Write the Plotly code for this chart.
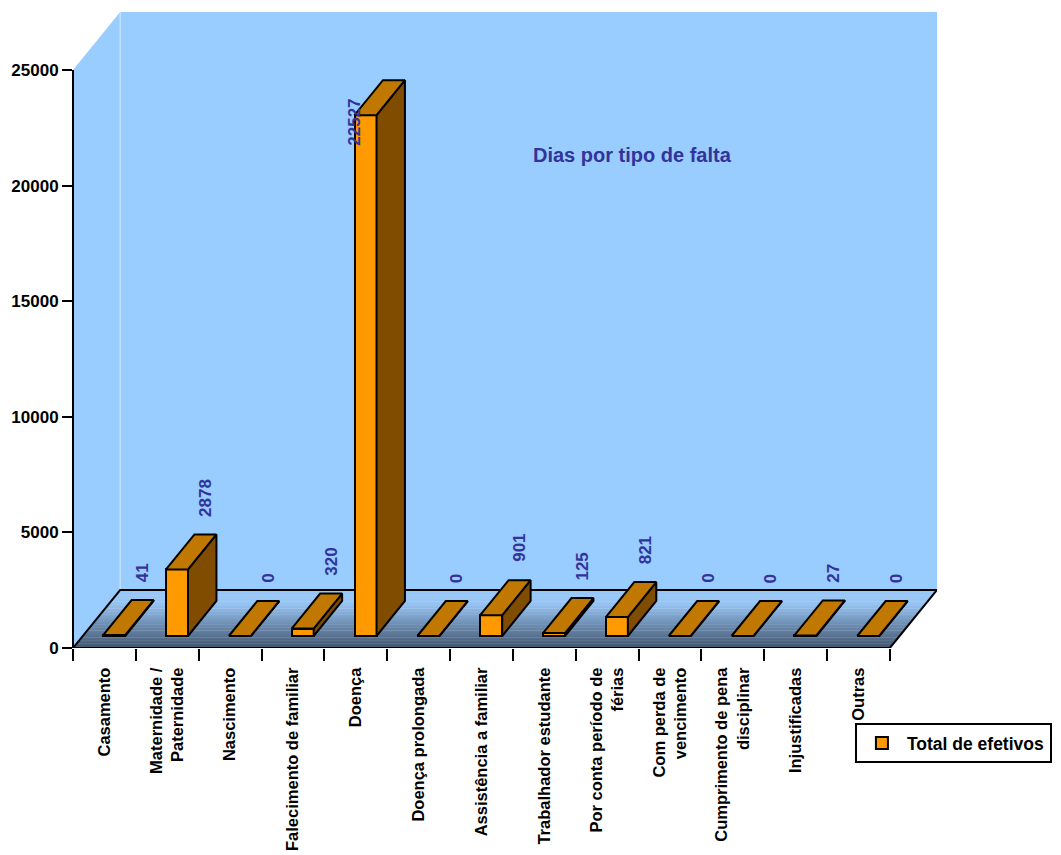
import plotly.graph_objects as go

# ---------------- data ----------------
categories = [
    "Casamento", "Maternidade /<br>Paternidade", "Nascimento", "Falecimento de familiar",
    "Doença", "Doença prolongada", "Assistência a familiar", "Trabalhador estudante",
    "Por conta período de<br>férias", "Com perda de<br>vencimento",
    "Cumprimento de pena<br>disciplinar", "Injustificadas", "Outras",
]
values = [41, 2878, 0, 320, 22527, 0, 901, 125, 821, 0, 0, 27, 0]
series_name = "Total de efetivos"
chart_title = "Dias por tipo de falta"
y_ticks = [0, 5000, 10000, 15000, 20000, 25000]
y_tick_text = ["0", "5000", "10000", "15000", "20000", "25000"]

# ---------------- pseudo-3D geometry (styling) ----------------
Y_MAX = 25000
FLOOR_DY = Y_MAX * 58 / 578      # floor depth expressed in y units
FLOOR_DX = 0.75                  # floor depth expressed in category units
D_FRONT, D_BACK = 12 / 58, 47 / 58
BAR_W = 0.35
n = len(categories)

base = D_FRONT * FLOOR_DY
shift_x = D_FRONT * FLOOR_DX
ddx = (D_BACK - D_FRONT) * FLOOR_DX
ddy = (D_BACK - D_FRONT) * FLOOR_DY

ORANGE = "#FF9900"
TOP_C = "#C07800"
SIDE_C = "#7F4C00"
WALL = "#99CCFF"
LABEL_C = "#333399"
FONT = "Arial, Liberation Sans, sans-serif"

fig = go.Figure()

# front faces
xs = [i + shift_x for i in range(n)]
fig.add_trace(go.Bar(
    x=xs, y=values, base=base, width=BAR_W, name=series_name,
    marker=dict(color=ORANGE, line=dict(color="black", width=2)),
    hoverinfo="skip", showlegend=True,
))

# side and top faces
side_x, side_y, top_x, top_y = [], [], [], []
for i, v in enumerate(values):
    xl = xs[i] - BAR_W / 2
    xr = xs[i] + BAR_W / 2
    yt = base + v
    side_x += [xr, xr, xr + ddx, xr + ddx, xr, None]
    side_y += [base, yt, yt + ddy, base + ddy, base, None]
    top_x += [xl, xr, xr + ddx, xl + ddx, xl, None]
    top_y += [yt, yt, yt + ddy, yt + ddy, yt, None]

fig.add_trace(go.Scatter(x=side_x, y=side_y, mode="lines", fill="toself",
                         fillcolor=SIDE_C, line=dict(color="black", width=2),
                         hoverinfo="skip", showlegend=False))
fig.add_trace(go.Scatter(x=top_x, y=top_y, mode="lines", fill="toself",
                         fillcolor=TOP_C, line=dict(color="black", width=2),
                         hoverinfo="skip", showlegend=False))

# ---------------- walls & floor ----------------
x0, x1 = -0.5, n - 0.5
y_top = Y_MAX + FLOOR_DY
shapes = []
# left wall
shapes.append(dict(type="path", xref="x", yref="y", layer="below",
                   path=f"M {x0},0 L {x0},{Y_MAX} L {x0+FLOOR_DX},{y_top} L {x0+FLOOR_DX},{FLOOR_DY} Z",
                   fillcolor=WALL, line=dict(width=0)))
# back wall
shapes.append(dict(type="rect", xref="x", yref="y", layer="below",
                   x0=x0 + FLOOR_DX, x1=x1 + FLOOR_DX, y0=FLOOR_DY, y1=y_top,
                   fillcolor=WALL, line=dict(width=0)))
# wall divider
shapes.append(dict(type="line", xref="x", yref="y", layer="below",
                   x0=x0 + FLOOR_DX, x1=x0 + FLOOR_DX, y0=FLOOR_DY, y1=y_top,
                   line=dict(color="#D6EBFF", width=1)))

# floor gradient strips
stops = [(0.0, (66, 86, 110)), (0.45, (115, 148, 186)), (0.75, (150, 195, 242)), (1.0, (153, 200, 248))]


def col_at(d):
    for (da, ca), (db, cb) in zip(stops[:-1], stops[1:]):
        if da <= d <= db:
            t = (d - da) / (db - da)
            c = [round(a + (b - a) * t) for a, b in zip(ca, cb)]
            return f"rgb({c[0]},{c[1]},{c[2]})"
    return f"rgb{stops[-1][1]}"


N = 40
for k in range(N):
    da, db = k / N, min(1.0, (k + 1.3) / N)
    path = (f"M {x0+FLOOR_DX*da},{FLOOR_DY*da} L {x1+FLOOR_DX*da},{FLOOR_DY*da} "
            f"L {x1+FLOOR_DX*db},{FLOOR_DY*db} L {x0+FLOOR_DX*db},{FLOOR_DY*db} Z")
    shapes.append(dict(type="path", xref="x", yref="y", layer="below", path=path,
                       fillcolor=col_at((k + 0.5) / N), line=dict(width=0)))
# floor outline
shapes.append(dict(type="path", xref="x", yref="y", layer="below",
                   path=f"M {x0},0 L {x1},0 L {x1+FLOOR_DX},{FLOOR_DY} L {x0+FLOOR_DX},{FLOOR_DY} Z",
                   fillcolor="rgba(0,0,0,0)", line=dict(color="black", width=2)))
# y axis line
shapes.append(dict(type="line", xref="paper", yref="y", x0=0, x1=0, y0=0, y1=Y_MAX,
                   line=dict(color="black", width=2)))

# ---------------- annotations ----------------
annotations = []
vmax = max(values)
lab_font = dict(family=FONT, size=17, color=LABEL_C, weight=700)
for i, v in enumerate(values):
    if v == vmax and v > 0.8 * Y_MAX:
        annotations.append(dict(x=xs[i] - BAR_W / 2, y=base + v, xref="x", yref="y",
                                text=f"{v}", showarrow=False, textangle=-90,
                                xanchor="center", yanchor="middle", yshift=-7,
                                font=lab_font))
    else:
        annotations.append(dict(x=xs[i] + ddx, y=base + v + ddy, xref="x", yref="y",
                                text=f"{v}", showarrow=False, textangle=-90,
                                xanchor="center", yanchor="bottom", yshift=16,
                                font=lab_font))
annotations.append(dict(x=0.648, y=0.775, xref="paper", yref="paper", text=chart_title,
                        showarrow=False, xanchor="center", yanchor="middle",
                        font=dict(family=FONT, size=20, color=LABEL_C, weight=700)))

fig.update_layout(
    width=1061, height=855,
    margin=dict(l=73, r=124, t=12, b=207, autoexpand=False),
    paper_bgcolor="white", plot_bgcolor="white",
    shapes=shapes, annotations=annotations,
    bargap=0,
    xaxis=dict(
        range=[x0, x1 + FLOOR_DX], tickmode="array",
        tickvals=list(range(n)), ticktext=categories, tickangle=-90,
        ticks="outside", ticklen=12, tickcolor="rgba(0,0,0,0)",
        tickfont=dict(family=FONT, size=16.5, color="black", weight=700),
        showgrid=False, zeroline=False, showline=False, automargin=False,
        minor=dict(tickvals=[i - 0.5 for i in range(n + 1)], ticks="outside",
                   ticklen=12, tickwidth=2, tickcolor="black", showgrid=False),
        fixedrange=True,
    ),
    yaxis=dict(
        range=[0, y_top], tickmode="array", tickvals=y_ticks, ticktext=y_tick_text,
        ticks="outside", ticklen=10, tickwidth=2, tickcolor="black",
        tickfont=dict(family=FONT, size=17, color="black", weight=700),
        showgrid=False, zeroline=False, showline=False, automargin=False,
        fixedrange=True,
    ),
    legend=dict(x=0.905, y=-0.118, xanchor="left", yanchor="top",
                bordercolor="black", borderwidth=2, bgcolor="white",
                itemwidth=40,
                font=dict(family=FONT, size=17.5, color="black", weight=700)),
)

fig.write_html("out.html")
